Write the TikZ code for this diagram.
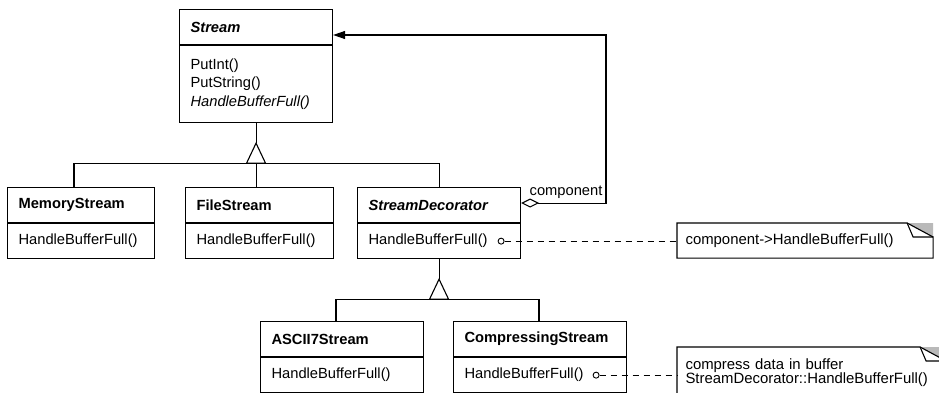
\documentclass[tikz,border=0pt]{standalone}
\usepackage{fontspec}
\setmainfont{Liberation Sans}
\usepackage{tikz}
\usetikzlibrary{arrows.meta}

% note with folded corner, drawn round a named node
\newcommand{\dogear}[1]{%
  \fill[gray!55] ([xshift=-26pt]#1.north east) -- (#1.north east) -- ([yshift=14pt]#1.north east) -- cycle;
  \draw (#1.south west) -- (#1.north west) -- ([xshift=-26pt]#1.north east)
    -- ([xshift=-20pt,yshift=14pt]#1.north east) -- ([yshift=14pt]#1.north east)
    -- (#1.south east) -- cycle;
  \draw ([xshift=-26pt]#1.north east) -- ([yshift=14pt]#1.north east);
}

\begin{document}
\begin{tikzpicture}[x=1pt,y=1pt,yscale=-1,line width=1.1pt,
  every node/.style={font=\fontsize{14.7}{18.5}\selectfont},
  clshead/.style={draw,anchor=north west,minimum height=35pt,inner xsep=11pt,inner ysep=0pt,align=left,font=\fontsize{14.7}{18.5}\selectfont\bfseries},
  clsops/.style={draw,anchor=north west,minimum height=35pt,inner xsep=11pt,inner ysep=0pt,align=left},
  note/.style={anchor=north west,inner xsep=8pt,inner ysep=0pt,align=left,font=\fontsize{14.9}{14.5}\selectfont},
  hook/.style={circle,draw,fill=white,inner sep=0pt,minimum size=6pt,line width=0.9pt},
  impl/.style={line width=0.9pt,dash pattern=on 6pt off 5pt},
  gen/.style={fill=white}]
\useasboundingbox (0,0) rectangle (939,393);
\clip (0,0) rectangle (939,393);

% Class: Stream
\node[clshead,minimum width=153pt,text width=131pt] (stream) at (179,9) {\itshape Stream};
\node[clsops,minimum width=153pt,text width=131pt,minimum height=77pt] (streamops) at (stream.south west) {PutInt()\\PutString()\\\textit{HandleBufferFull()}};

% Class: MemoryStream
\node[clshead,minimum width=147pt,text width=125pt] (mem) at (7,187) {MemoryStream};
\node[clsops,minimum width=147pt,text width=125pt] (memops) at (mem.south west) {HandleBufferFull()};

% Class: FileStream
\node[clshead,minimum width=148pt,text width=126pt] (file) at (185,187) {FileStream};
\node[clsops,minimum width=148pt,text width=126pt] (fileops) at (file.south west) {HandleBufferFull()};

% Class: StreamDecorator
\node[clshead,minimum width=163pt,text width=141pt] (dec) at (357,187) {\itshape StreamDecorator};
\node[clsops,minimum width=163pt,text width=141pt] (decops) at (dec.south west) {HandleBufferFull()};

% Class: ASCII7Stream
\node[clshead,minimum width=163pt,text width=141pt] (ascii) at (260,321) {ASCII7Stream};
\node[clsops,minimum width=163pt,text width=141pt] (asciiops) at (ascii.south west) {HandleBufferFull()};

% Class: CompressingStream
\node[clshead,minimum width=173pt,text width=151pt] (comp) at (453,321) {CompressingStream};
\node[clsops,minimum width=173pt,text width=151pt] (compops) at (comp.south west) {HandleBufferFull()};

% Generalization Stream
\path (streamops.south) ++(0,20) coordinate (gen1) ++(0,20) coordinate (bar1);
\draw (streamops.south) -- (gen1);
\draw ([xshift=67pt]mem.north west) |- (bar1) -| (dec.north);
\draw (bar1) -- (bar1 |- file.north);
\draw[gen] (gen1) -- ++(9.5,20) -- ++(-19,0) -- cycle;

% Generalization StreamDecorator
\path (decops.south) ++(0,20) coordinate (gen2) ++(0,20) coordinate (bar2);
\draw (decops.south) -- (gen2);
\draw ([xshift=76pt]ascii.north west) |- (bar2) -| ([xshift=86pt]comp.north west);
\draw[gen] (gen2) -- ++(9.5,20) -- ++(-19,0) -- cycle;

% Aggregation component
\coordinate (bend) at (606,35);
\draw[{Diamond[open,length=18pt,width=9pt]}-{Triangle[length=12pt,width=8pt]}] ([yshift=-2pt]dec.east) -| (bend) -- (bend -| stream.east);
\node[anchor=base west,inner sep=0pt] (complabel) at ([xshift=8pt,yshift=-10pt]dec.east) {component};

% Notes
\node[note,minimum width=255pt,minimum height=34pt,text width=239pt] (note1) at (677,223) {component->HandleBufferFull()};
\dogear{note1}
\node[note,minimum width=268pt,minimum height=50pt,text width=252pt] (note2) at (677,347) {compress data in buffer\\StreamDecorator::HandleBufferFull()};
\dogear{note2}

% Implementation links
\node[hook] (dechook) at ([xshift=-20pt]decops.east) {};
\draw[impl] (dechook) -- (dechook -| note1.west);
\node[hook] (comphook) at ([xshift=-31pt]compops.east) {};
\draw[impl] (comphook) -- (comphook -| note2.west);

\end{tikzpicture}
\end{document}
